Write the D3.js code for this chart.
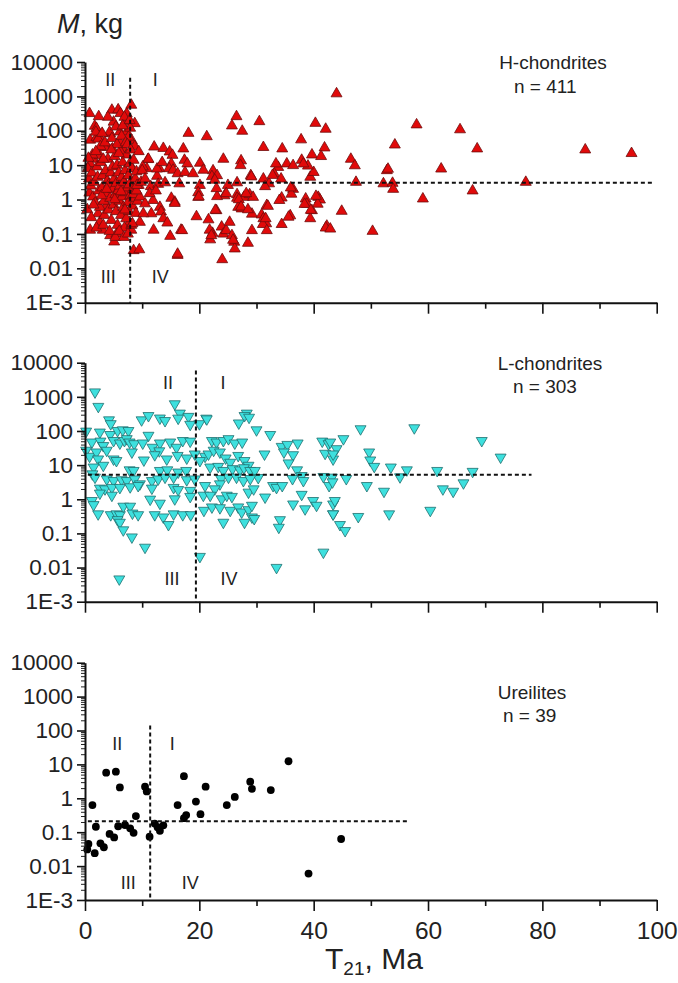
<!DOCTYPE html>
<html><head><meta charset="utf-8">
<script src="https://cdn.jsdelivr.net/npm/d3@7"></script>
<style>
body{margin:0;background:#fff}
svg{display:block}
text{font-family:"Liberation Sans",Arial,sans-serif;fill:#222}
</style>
</head><body>
<svg id="chart" width="678" height="983"></svg>
<script>
// ---------- DATA: [T21 (Ma), M (kg)] ----------
const hChondrites = [
[0.8,320],[1.7,137],[2.0,118],[0.9,54],[2.0,64],[2.5,68],[4.7,400],[5.8,410],[6.2,320],[7.3,316],[8.1,560],[8.7,163],[6.1,93],[4.4,83],[3.9,34],[7.3,93],[5.0,180],[7.0,180],[1.5,15],[0.9,11],[2.6,19],[3.5,33],[4.8,30],[6.7,30],[8.2,52],[7.6,66],[2.3,58],[1.9,92],[4.3,92],[6.1,47],
[0.4,0.51],[0.76,1.56],[0.9,0.13],[2.3,0.39],[3.8,0.68],[2.6,0.22],[3.1,0.13],[4.4,0.09],[5.1,0.059],[5.5,0.1],[7.8,0.22],[8.1,0.13],[9.6,0.22],
[0.5,8],[0.7,4],[1.0,2.5],[1.2,6],[1.4,1.2],[1.6,3.2],[1.8,0.8],[2.1,9],[2.2,4.5],[2.4,1.8],[2.6,0.6],[2.8,12],[3.0,2.2],[3.1,5],[3.3,0.9],[3.4,0.35],[3.6,7],[3.7,1.5],[3.9,3.5],[4.0,15],[4.1,0.5],[4.2,2.8],[4.4,1.1],[4.5,6],[4.6,0.25],[4.8,9],[4.9,2],[5.0,0.7],[5.1,4],[5.2,18],[5.3,1.4],[5.4,0.45],[5.5,3],[5.6,10],[5.7,0.18],[5.8,1.8],[5.9,6],[6.0,0.9],[6.1,2.5],[6.2,25],[6.3,0.35],[6.4,4.5],[6.5,1.2],[6.6,12],[6.7,0.6],[6.8,3.2],[6.9,0.15],[7.0,7],[7.1,1.6],[7.2,0.28],[7.3,20],[7.4,2.2],[7.5,0.8],[7.6,5],[7.7,0.45],[7.8,11],[7.9,1.3],[8.0,3],[8.1,0.18],[8.2,8],[8.3,0.65],[8.4,2],[8.5,14],[8.6,1.1],[8.8,4],[8.9,0.4],[9.0,6.5],[9.2,0.9],[9.4,2.6],
[1.1,0.3],[1.3,20],[2.0,0.15],[2.7,35],[3.2,0.18],[3.5,45],[4.3,0.12],[4.7,60],[5.3,0.08],[5.6,40],[6.0,0.12],[6.4,70],[6.8,0.08],[7.1,45],[7.5,0.1],[7.9,120],[8.3,0.2],[8.7,35],[1.5,0.7],[2.9,1.3],[3.8,2],[5.2,1],[6.3,1.7],[7.0,0.5],[7.7,2.7],[8.4,1.4],[0.6,16],[1.9,25],[3.2,15],[4.6,28],[5.9,22],[7.4,40],[8.0,28],[6.9,250],[5.4,130],[3.0,85],[4.0,250],[6.6,140],[7.8,200],[2.4,260],
[12.1,34],[13.7,31],[14.8,24.5],[15.3,19.5],[13.0,8],[12.6,4.8],[10.8,8],[11.0,14.7],[10.1,9],[15.1,11],[14.7,8],[15.4,7.2],[16.2,5.7],[11.9,0.95],[15.1,1.1],[15.7,0.85],[13.1,0.6],[13.3,0.44],[11.6,0.39],[13.7,0.28],[14.4,0.21],[12.0,0.13],[14.9,0.086],[16.8,0.13],[16.2,0.024],[8.5,0.033],[9.5,0.035],[9.6,1.2],[9.0,1.8],[9.1,2.6],[10.2,0.39],[10.5,0.76],[10.0,7],[12.6,7.8],[11.1,15],[9.8,3.2],[10.5,4],[11.5,2.4],[12.8,2.8],[14.0,3.1],[13.5,12],[9.4,25],[11.3,1.5],[12.4,1.8],[16.5,2.9],
[18.1,85],[21.3,68],[17.2,30],[17.4,14],[17.9,11],[20.1,11.5],[20.7,7.2],[22.4,6.9],[22.2,4.7],[23.1,5],[17.5,6.2],[24.2,15],[27.3,13.5],[27.2,9.8],[26.5,260],[25.7,140],[27.5,98],[30.5,186],[31.2,33],[34.5,30],[29.0,5],[31.2,4],[33.8,8.7],[35.3,11],[36.4,9.8],[33.1,5.6],[34.3,4],[32.2,2.9],[31.5,2.4],[39.4,4.5],[40.0,6.2],[37.9,14],[39.0,9.5],[40.3,166],[42.1,112],[37.8,55],[41.9,32],[39.7,20],[41.3,18],[44.0,1200],
[20.1,2.6],[19.8,1.6],[19.8,1.17],[24.4,1.3],[25.0,2.6],[26.6,1.4],[26.6,1.1],[27.8,1.17],[28.8,1.4],[29.4,1.17],[23.1,1.23],[36.4,2.0],[36.1,1.45],[34.4,1.12],[38.6,1.05],[38.8,0.74],[40.8,1.17],[41.1,0.98],[40.7,0.74],[39.7,0.48],[39.4,0.28],[42.3,0.17],[15.7,0.78],[19.5,0.32],[21.6,0.26],[23.0,0.48],[26.8,0.6],[27.4,0.54],[29.2,0.38],[30.9,0.36],[31.8,0.68],[31.2,0.28],[31.7,0.2],[31.1,0.19],[31.8,0.126],[34.4,0.19],[35.9,0.34],[29.2,0.126],[23.9,0.16],[24.2,0.1],[24.7,0.126],[25.3,0.22],[25.7,0.09],[26.1,0.058],[26.2,0.037],[22.3,0.105],[21.9,0.068],[17.0,0.126],[16.2,0.026],[24.0,0.018],[28.5,0.054],
[18.9,5.7],[22.7,3.7],[23.0,2.1],[26.6,3.1],[29.1,4.6],[32.8,5.1],[33.4,11],[36.0,2.2],[38.2,11],[28.2,1.5],[24.7,1.5],[26.9,1.0],[27.3,0.61],[28.5,0.51],[31.6,0.28],[32.0,0.64],[34.0,0.95],[35.6,0.31],[38.4,0.73],[40.4,1.25],[39.5,0.49],[42.1,0.15],[19.9,1.2],[22.8,0.49],[21.8,0.13],[22.1,0.09],[25.9,0.066],
[46.5,15],[47.2,9.7],[47.4,3.2],[44.9,0.46],[50.3,0.12],[58.0,150],[65.6,108],[54.2,39],[68.6,30],[87.5,28],[95.6,22],[52.8,7],[53.0,7.7],[62.3,7.8],[52.2,2.9],[53.8,3.0],[53.9,2.0],[67.8,1.8],[77.1,3.2],[59.1,1.05],[42.9,0.14]
];

const lChondrites = [
[1.75,1380],[2.33,520],[15.7,620],[4.2,210],[4.5,162],[9.9,210],[11.1,280],[13.1,237],[14.0,200],[16.6,330],[18.1,265],[16.3,235],[18.4,155],[20.0,162],[21.2,235],
[0.2,98],[2.6,92],[4.4,78],[5.7,102],[6.6,107],[7.6,102],[11.1,74],
[1.2,47],[2.7,50],[3.2,37],[5.0,52],[6.1,44],[6.9,52],[7.3,59],[7.8,47],[8.6,42],[10.1,44],[11.8,33],[13.1,44],[13.0,26],[14.9,47],[16.0,33],[17.1,52],[18.4,50],
[0.2,27],[0.8,18],[2.0,24],[2.3,15],[3.8,27],[5.0,15],[5.5,13.5],[8.2,24],[10.3,14],[12.2,20],[14.3,15],[16.2,19],[17.8,16],[19.2,21],[21.0,18],[20.1,13.5],
[3.2,9.8],[1.5,8.7],[7.8,7.2],[8.5,6.9],[13.1,6.9],[14.4,7.2],[16.3,6.2],[17.7,6.9],
[1.3,5.5],[1.75,4.4],[3.8,3.9],[5.0,3.5],[6.4,3.7],[7.3,3.5],[8.7,3.9],[9.6,2.8],[11.7,3.5],[12.8,3.9],[14.0,4.4],[15.5,4.4],[17.8,3.7],[19.2,3.9],
[2.6,2.1],[3.5,2.0],[4.7,2.2],[6.1,2.2],[7.9,2.3],[9.3,2.5],[11.7,2.1],[15.5,2.2],[16.3,1.9],[18.4,1.8],
[2.6,1.5],[4.7,1.3],[15.7,1.02],[18.4,1.2],[20.7,1.3],[1.2,0.91],[11.4,1.0],[13.1,0.76],[1.5,0.69],
[2.3,0.37],[4.5,0.35],[5.5,0.37],[6.1,0.35],[6.7,0.62],[7.9,0.62],[8.3,0.39],[9.3,0.35],[12.2,0.35],[13.7,0.3],[15.5,0.37],[17.1,0.35],[18.5,0.35],[20.8,0.47],
[5.7,0.25],[6.1,0.21],[14.6,0.18],[6.7,0.126],[8.2,0.078],[10.5,0.039],[20.1,0.021],[6.0,0.0046],
[28.3,330],[27.9,280],[28.7,250],[26.9,170],[30.0,107],[32.4,78],[21.3,224],
[22.2,52],[23.0,47],[24.2,52],[25.1,59],[26.2,44],[27.5,47],[31.4,21],[34.4,35],[35.4,40],[37.2,44],[34.8,24],[36.4,20],[41.5,50],[42.6,42],[42.0,22],[43.4,15],
[21.6,21],[22.5,27],[23.6,24],[24.6,16],[25.4,12],[26.8,19],[27.9,13.5],[28.6,9.8],
[21.9,8.7],[23.3,9.1],[24.2,6.9],[25.8,7.8],[27.1,7.2],[27.8,8.3],[28.9,6.9],[29.7,6.9],[30.3,4.3],[35.6,11.5],[37.1,7.2],[37.9,4.9],[36.3,4.0],[41.7,4.6],[42.7,2.5],[43.2,4.4],
[23.8,4.0],[25.1,4.4],[23.6,2.8],[26.5,4.4],[27.7,3.5],[28.9,4.0],[21.0,2.5],[22.7,2.0],[32.9,2.5],[33.5,2.2],[34.5,2.5],[38.2,3.5],
[21.9,1.3],[23.9,1.02],[24.8,1.3],[25.7,1.2],[28.6,1.6],[29.5,2.0],[31.5,1.15],[37.9,1.38],[36.4,0.72],[38.5,0.52],[39.9,0.91],[40.5,0.66],[43.4,0.72],
[22.2,0.59],[23.6,0.56],[25.4,0.47],[26.8,0.59],[27.4,0.42],[28.6,0.49],[29.2,0.66],
[24.2,0.21],[27.9,0.21],[29.2,0.3],[29.6,0.27],[34.1,0.25],[33.9,0.15],[43.4,0.37],[41.7,0.028],[33.5,0.010],
[48.2,115],[57.6,123],[69.4,52],[72.7,17],[45.2,59],[42.9,47],[44.0,30],[43.4,21],[49.7,24],[49.9,14],[50.6,9.1],[53.5,8.7],[56.3,7.2],[61.6,6.9],[67.8,6.5],[55.1,4.5],[45.7,4.0],[43.3,3.2],[49.3,2.5],[52.3,1.7],[62.6,2.0],[64.4,1.7],[66.2,3.0],[43.7,0.91],[43.4,0.37],[47.8,0.31],[53.2,0.37],[60.4,0.47],[44.6,0.18],[45.5,0.12]
];

const ureilites = [
[1.3,0.63],[3.7,5.7],[5.4,6.1],[6.1,2.1],[10.5,2.2],[10.8,1.6],[1.9,0.145],[0.6,0.045],[0.4,0.031],[1.7,0.024],[2.7,0.047],[3.3,0.036],[4.3,0.089],[5.1,0.07],[5.8,0.15],[7.0,0.163],[7.9,0.13],[8.5,0.096],[8.9,0.30],[11.3,0.074],[12.2,0.18],[12.7,0.14],[13.1,0.11],[13.7,0.16],[16.2,0.63],[17.3,4.5],[17.3,0.26],[17.7,0.32],[19.4,0.80],[20.2,0.34],[21.1,2.2],[24.8,0.63],[26.2,1.1],[28.9,3.1],[29.2,1.9],[32.5,1.75],[35.6,12.4],[39.1,0.006],[44.8,0.063]
];

// quadrant divider lines: vertical at T (from M top down), horizontal at M (T range)
const dividerT = [7.9, 19.4, 11.4];
const dividerTopM = [3500, 5900, 140];
const dividerM = [3.1, 5.2, 0.21];
const dividerTRange = [[0.5, 99.3], [0.5, 78.1], [0.5, 56.7]];

const groupNames = ["H-chondrites", "L-chondrites", "Ureilites"];
const groupCounts = ["n = 411", "n = 303", "n = 39"];
const quadrantLabels = ["I", "II", "III", "IV"];

const yTickValues = [1e4, 1e3, 100, 10, 1, 0.1, 0.01, 0.001];
const yTickLabels = ["10000", "1000", "100", "10", "1", "0.1", "0.01", "1E-3"];
const xTickValues = [0, 20, 40, 60, 80, 100];
const xMinorTicks = [10, 30, 50, 70, 90];

// ---------- LAYOUT ----------
const svg = d3.select("#chart");
const x = d3.scaleLinear().domain([0, 100]).range([85, 656.7]);
const panelBox = [
  {top: 62, bottom: 302.7, qTop: 80, qBot: 277, off: [-20, 25, -22, 30], nameX: 553, nameY: 69, nX: 514, nY: 93},
  {top: 362.7, bottom: 601.7, qTop: 383, qBot: 579, off: [-28, 27, -24, 33], nameX: 550, nameY: 370, nX: 513, nY: 393},
  {top: 662.7, bottom: 900, qTop: 744, qBot: 883, off: [-33, 22, -22, 40], nameX: 532, nameY: 699, nX: 503, nY: 722}
];
const datasets = [hChondrites, lChondrites, ureilites];

const minorY = [];
for (let e = -3; e < 4; e++) for (let k = 2; k <= 9; k++) minorY.push(k * Math.pow(10, e));

const triUp = d3.symbol(d3.symbolTriangle, 52)();

panelBox.forEach((pb, i) => {
  const y = d3.scaleLog().domain([1e-3, 1e4]).range([pb.bottom, pb.top]);
  const g = svg.append("g");

  // points
  const data = datasets[i];
  if (i === 0) {
    g.selectAll("path.pt").data(data).join("path")
      .attr("d", triUp)
      .attr("transform", d => `translate(${x(d[0])},${y(d[1])})`)
      .attr("fill", "#e10a0a").attr("stroke", "#6e0c0c").attr("stroke-width", 0.8);
  } else if (i === 1) {
    g.selectAll("path.pt").data(data).join("path")
      .attr("d", triUp)
      .attr("transform", d => `translate(${x(d[0])},${y(d[1])}) rotate(180)`)
      .attr("fill", "#3ee0de").attr("stroke", "#1f6e6e").attr("stroke-width", 0.8);
  } else {
    g.selectAll("circle").data(data).join("circle")
      .attr("cx", d => x(d[0])).attr("cy", d => y(d[1])).attr("r", 3.9)
      .attr("fill", "#000");
  }

  // dashed quadrant lines
  const vt = dividerT[i];
  g.append("line")
    .attr("x1", x(vt)).attr("x2", x(vt))
    .attr("y1", y(dividerTopM[i])).attr("y2", y(1e-3))
    .attr("stroke", "#111").attr("stroke-width", 2).attr("stroke-dasharray", "4,3");
  g.append("line")
    .attr("x1", x(dividerTRange[i][0])).attr("x2", x(dividerTRange[i][1]))
    .attr("y1", y(dividerM[i])).attr("y2", y(dividerM[i]))
    .attr("stroke", "#111").attr("stroke-width", 2).attr("stroke-dasharray", "4,3");

  // quadrant labels
  const qx = x(vt);
  const qg = g.append("g").attr("font-size", 18).attr("text-anchor", "middle");
  qg.append("text").attr("x", qx + pb.off[1]).attr("y", pb.qTop).attr("dy", "0.35em").text(quadrantLabels[0]);
  qg.append("text").attr("x", qx + pb.off[0]).attr("y", pb.qTop).attr("dy", "0.35em").text(quadrantLabels[1]);
  qg.append("text").attr("x", qx + pb.off[2]).attr("y", pb.qBot).attr("dy", "0.35em").text(quadrantLabels[2]);
  qg.append("text").attr("x", qx + pb.off[3]).attr("y", pb.qBot).attr("dy", "0.35em").text(quadrantLabels[3]);

  // group annotation
  g.append("text").attr("x", pb.nameX).attr("y", pb.nameY).attr("text-anchor", "middle")
    .attr("font-size", 19).text(groupNames[i]);
  g.append("text").attr("x", pb.nX).attr("y", pb.nY).attr("font-size", 19).text(groupCounts[i]);

  // y axis minor ticks
  const yMinor = g.append("g").attr("transform", `translate(85,0)`)
    .call(d3.axisLeft(y).tickValues(minorY).tickSize(4).tickFormat("").tickSizeOuter(0));
  yMinor.select(".domain").remove();
  yMinor.selectAll("line").attr("stroke", "#222").attr("stroke-width", 1);

  // y axis major
  const yAx = g.append("g").attr("transform", `translate(85,0)`)
    .call(d3.axisLeft(y).tickValues(yTickValues).tickFormat((d, k) => yTickLabels[k])
      .tickSize(8).tickPadding(4).tickSizeOuter(0));
  yAx.select(".domain").attr("stroke", "#111").attr("stroke-width", 2);
  yAx.selectAll("line").attr("stroke", "#111").attr("stroke-width", 1.6);
  yAx.selectAll("text").attr("font-size", 22.5).attr("fill", "#222")
    .style("font-family", '"Liberation Sans", Arial, sans-serif');

  // x axis minor
  const xMinor = g.append("g").attr("transform", `translate(0,${pb.bottom})`)
    .call(d3.axisBottom(x).tickValues(xMinorTicks).tickSize(6).tickFormat("").tickSizeOuter(0));
  xMinor.select(".domain").remove();
  xMinor.selectAll("line").attr("stroke", "#111").attr("stroke-width", 1.6);

  // x axis major
  const xAx = g.append("g").attr("transform", `translate(0,${pb.bottom})`)
    .call(d3.axisBottom(x).tickValues(xTickValues).tickSize(11).tickPadding(11).tickSizeOuter(0)
      .tickFormat(i === 2 ? d3.format("d") : ""));
  xAx.select(".domain").attr("stroke", "#111").attr("stroke-width", 2);
  xAx.selectAll("line").attr("stroke", "#111").attr("stroke-width", 1.6);
  xAx.selectAll("text").attr("font-size", 24.5).attr("fill", "#222")
    .style("font-family", '"Liberation Sans", Arial, sans-serif');
});

// y axis title
const yt = svg.append("text").attr("x", 57).attr("y", 33).attr("font-size", 27);
yt.append("tspan").attr("font-style", "italic").text("M");
yt.append("tspan").text(", kg");

// x axis title
const xt = svg.append("text").attr("x", 325).attr("y", 969).attr("font-size", 30);
xt.append("tspan").text("T");
xt.append("tspan").attr("font-size", 19).attr("dy", 6).text("21");
xt.append("tspan").attr("dy", -6).text(", Ma");
</script>
</body></html>
